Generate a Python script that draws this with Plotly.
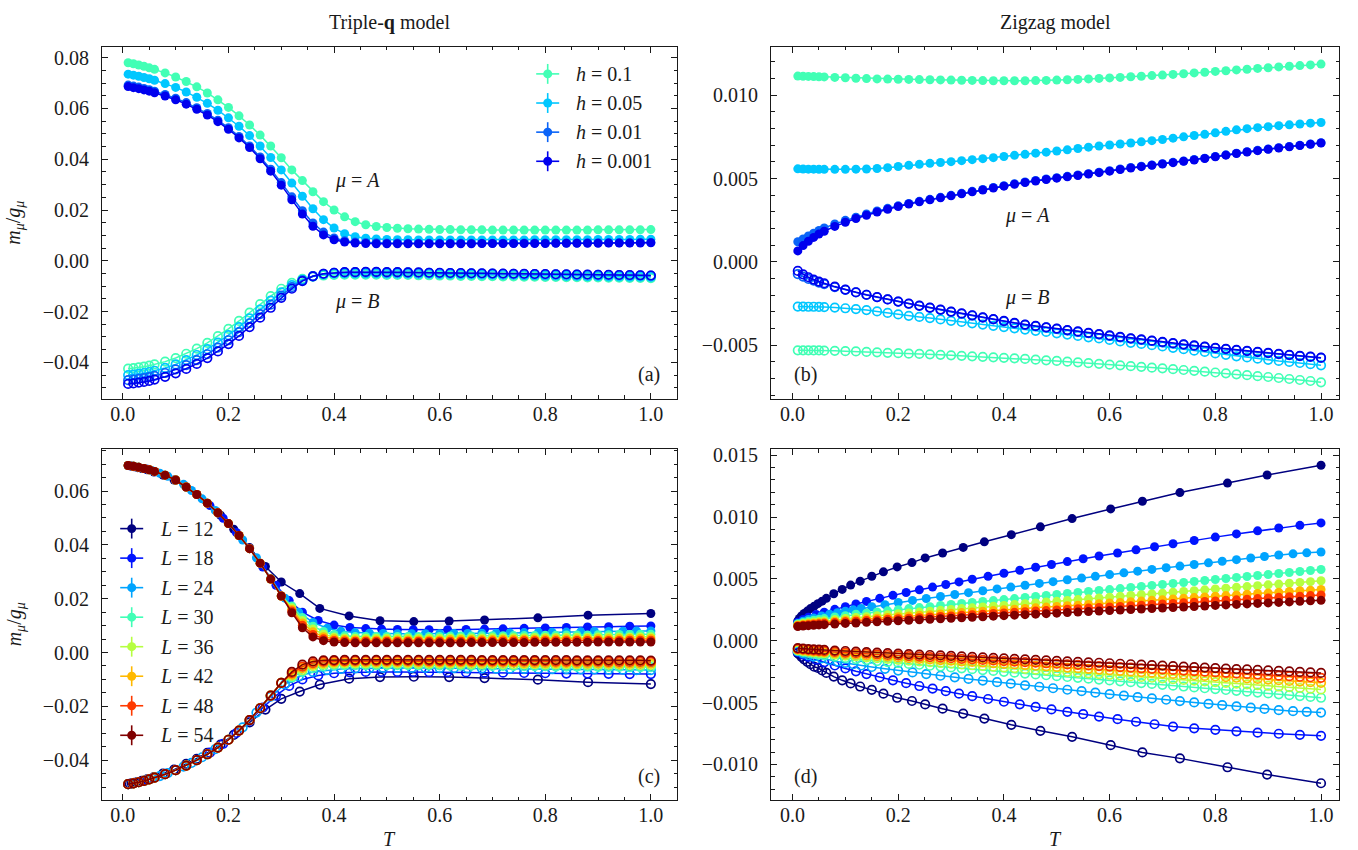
import plotly.graph_objects as go

W, H = 1358, 850
FONT = "Liberation Serif"
INK = "#1a1a1a"

# ------------------------------------------------------------------ data
T_dense = [0.01, 0.02, 0.03, 0.04, 0.05, 0.06, 0.08, 0.10, 0.12, 0.14, 0.16, 0.18, 0.20,
           0.22, 0.24, 0.26, 0.28, 0.30, 0.32, 0.34, 0.36, 0.38, 0.40, 0.42, 0.44, 0.46,
           0.48, 0.50, 0.52, 0.54, 0.56, 0.58, 0.60, 0.62, 0.64, 0.66, 0.68, 0.70, 0.72,
           0.74, 0.76, 0.78, 0.80, 0.82, 0.84, 0.86, 0.88, 0.90, 0.92, 0.94, 0.96, 0.98, 1.00]
T_L12c = [0.010, 0.013, 0.017, 0.022, 0.028, 0.036, 0.046, 0.059, 0.076, 0.097, 0.12, 0.14,
          0.16, 0.185, 0.21, 0.24, 0.27, 0.30, 0.335, 0.373, 0.4285, 0.487, 0.551, 0.618,
          0.685, 0.786, 0.881, 1.0]
T_L12d = [0.010, 0.013, 0.017, 0.022, 0.028, 0.034, 0.041, 0.048, 0.056, 0.064, 0.078, 0.094,
          0.110, 0.128, 0.150, 0.172, 0.198, 0.226, 0.251, 0.284, 0.323, 0.363, 0.414, 0.469,
          0.529, 0.602, 0.662, 0.733, 0.823, 0.898, 1.0]
T_L18 = [0.01, 0.02, 0.03, 0.045, 0.06, 0.08, 0.10, 0.12, 0.14, 0.165, 0.19, 0.215, 0.24, 0.265,
         0.29, 0.315, 0.34, 0.37, 0.40, 0.43, 0.46, 0.49, 0.52, 0.55, 0.58, 0.615, 0.65, 0.685,
         0.72, 0.76, 0.80, 0.84, 0.88, 0.92, 0.96, 1.0]
T_L24 = [0.01, 0.02, 0.03, 0.04, 0.055, 0.07, 0.085, 0.10, 0.115, 0.13, 0.15, 0.175, 0.2, 0.227,
         0.253, 0.28, 0.307, 0.333, 0.36, 0.387, 0.413, 0.44, 0.467, 0.493, 0.52, 0.547, 0.573,
         0.6, 0.627, 0.653, 0.68, 0.707, 0.733, 0.76, 0.787, 0.813, 0.84, 0.867, 0.893, 0.92,
         0.947, 0.973, 1.0]

h_labels = ["0.1", "0.05", "0.01", "0.001"]
L_labels = ["12", "18", "24", "30", "36", "42", "48", "54"]

# ---- panel (a): Triple-q, field dependence
a_A_h01 = [0.0780, 0.0776, 0.0771, 0.0766, 0.0760, 0.0754, 0.0740, 0.0724, 0.0706, 0.0685, 0.0661,
           0.0634, 0.0604, 0.0571, 0.0535, 0.0495, 0.0452, 0.0406, 0.0358, 0.0316, 0.0272, 0.0233,
           0.0200, 0.0173, 0.0154, 0.0142, 0.0135, 0.0131,
           0.0128, 0.0126, 0.0125, 0.0124, 0.0123, 0.0123, 0.0122, 0.0122, 0.0122, 0.0121, 0.0121,
           0.0121, 0.0121, 0.0121, 0.0121, 0.0121, 0.0121, 0.0121, 0.0121, 0.0122, 0.0122, 0.0122,
           0.0122, 0.0122, 0.0123]
a_A_h005 = [0.0735, 0.0731, 0.0727, 0.0722, 0.0717, 0.0711, 0.0698, 0.0683, 0.0665, 0.0644, 0.0620,
            0.0593, 0.0563, 0.0530, 0.0493, 0.0452, 0.0407, 0.0358, 0.0306, 0.0254, 0.0205, 0.0162,
            0.0129, 0.0107, 0.0095, 0.0089, 0.0086, 0.0084,
            0.0083, 0.0083, 0.0082, 0.0082, 0.0082, 0.0082, 0.0082, 0.0082, 0.0082, 0.0082, 0.0082,
            0.0082, 0.0082, 0.0083, 0.0083, 0.0083, 0.0083, 0.0083, 0.0083, 0.0084, 0.0084, 0.0084,
            0.0084, 0.0085, 0.0085]
a_A_h001 = [0.0692, 0.0688, 0.0684, 0.0679, 0.0674, 0.0668, 0.0655, 0.0640, 0.0623, 0.0603, 0.0580,
            0.0554, 0.0524, 0.0490, 0.0452, 0.0409, 0.0361, 0.0308, 0.0252, 0.0197, 0.0149, 0.0113,
            0.0090, 0.0079, 0.0074, 0.0072, 0.0071, 0.0070,
            0.0070, 0.0069, 0.0069, 0.0069, 0.0069, 0.0069, 0.0069, 0.0069, 0.0069, 0.0069, 0.0069,
            0.0069, 0.0070, 0.0070, 0.0070, 0.0070, 0.0070, 0.0070, 0.0071, 0.0071, 0.0071, 0.0071,
            0.0071, 0.0072, 0.0072]
a_A_h0001 = [0.0686, 0.0682, 0.0678, 0.0673, 0.0668, 0.0662, 0.0649, 0.0634, 0.0617, 0.0597, 0.0574,
             0.0548, 0.0518, 0.0484, 0.0446, 0.0402, 0.0353, 0.0298, 0.0240, 0.0184, 0.0136, 0.0102,
             0.0083, 0.0074, 0.0070, 0.0068, 0.0067, 0.0067,
             0.0067, 0.0067, 0.0067, 0.0067, 0.0067, 0.0067, 0.0067, 0.0067, 0.0068, 0.0068, 0.0068,
             0.0068, 0.0068, 0.0068, 0.0068, 0.0069, 0.0069, 0.0069, 0.0069, 0.0069, 0.0070, 0.0070,
             0.0070, 0.0070, 0.0071]
a_B_h01 = [-0.0425, -0.0423, -0.0420, -0.0417, -0.0413, -0.0408, -0.0397, -0.0383, -0.0366, -0.0346,
           -0.0323, -0.0297, -0.0268, -0.0237, -0.0204, -0.0171, -0.0139, -0.0110, -0.0087, -0.0071,
           -0.0062, -0.0058, -0.0056, -0.0055, -0.0055, -0.0055, -0.0055, -0.0056,
           -0.0056, -0.0056, -0.0057, -0.0057, -0.0058, -0.0058, -0.0059, -0.0059, -0.0060, -0.0060,
           -0.0061, -0.0061, -0.0062, -0.0062, -0.0063, -0.0063, -0.0064, -0.0064, -0.0065, -0.0065,
           -0.0066, -0.0066, -0.0067, -0.0067, -0.0068]
a_B_h005 = [-0.0450, -0.0448, -0.0445, -0.0442, -0.0438, -0.0433, -0.0422, -0.0408, -0.0391, -0.0371,
            -0.0348, -0.0322, -0.0293, -0.0261, -0.0227, -0.0192, -0.0157, -0.0124, -0.0096, -0.0075,
            -0.0061, -0.0054, -0.0051, -0.0050, -0.0050, -0.0050, -0.0050, -0.0051,
            -0.0051, -0.0051, -0.0052, -0.0052, -0.0053, -0.0053, -0.0054, -0.0054, -0.0055, -0.0055,
            -0.0056, -0.0056, -0.0057, -0.0057, -0.0058, -0.0058, -0.0059, -0.0059, -0.0060, -0.0060,
            -0.0061, -0.0061, -0.0062, -0.0062, -0.0063]
a_B_h001 = [-0.0470, -0.0468, -0.0465, -0.0462, -0.0458, -0.0453, -0.0442, -0.0428, -0.0411, -0.0391,
            -0.0368, -0.0342, -0.0313, -0.0281, -0.0246, -0.0210, -0.0173, -0.0137, -0.0104, -0.0077,
            -0.0060, -0.0051, -0.0047, -0.0046, -0.0045, -0.0045, -0.0045, -0.0046,
            -0.0046, -0.0046, -0.0047, -0.0047, -0.0048, -0.0048, -0.0049, -0.0049, -0.0050, -0.0050,
            -0.0051, -0.0051, -0.0052, -0.0052, -0.0053, -0.0053, -0.0054, -0.0054, -0.0055, -0.0055,
            -0.0056, -0.0056, -0.0057, -0.0057, -0.0058]
a_B_h0001 = [-0.0485, -0.0483, -0.0480, -0.0477, -0.0473, -0.0468, -0.0457, -0.0443, -0.0426, -0.0406,
             -0.0383, -0.0357, -0.0328, -0.0296, -0.0261, -0.0224, -0.0185, -0.0146, -0.0110, -0.0080,
             -0.0061, -0.0051, -0.0047, -0.0045, -0.0045, -0.0044, -0.0044, -0.0045,
             -0.0045, -0.0046, -0.0046, -0.0047, -0.0047, -0.0048, -0.0048, -0.0049, -0.0049, -0.0050,
             -0.0050, -0.0051, -0.0051, -0.0052, -0.0052, -0.0053, -0.0053, -0.0054, -0.0054, -0.0055,
             -0.0055, -0.0056, -0.0056, -0.0057, -0.0058]

# ---- panel (b): Zigzag, field dependence
b_A_h01 = [0.01114, 0.01113, 0.01112, 0.01111, 0.01110, 0.01109, 0.01106, 0.01104, 0.01101, 0.01099,
           0.01097, 0.01096, 0.01095, 0.01094, 0.01093, 0.01092, 0.01091, 0.01090, 0.01089, 0.01088,
           0.01087, 0.01086, 0.01086, 0.01086, 0.01086, 0.01087, 0.01088, 0.01090, 0.01092, 0.01094,
           0.01097, 0.01100, 0.01103, 0.01106, 0.01110, 0.01113, 0.01117, 0.01120, 0.01124, 0.01128,
           0.01133, 0.01137, 0.01142, 0.01146, 0.01151, 0.01155, 0.01160, 0.01164, 0.01169, 0.01173,
           0.01177, 0.01181, 0.01186]
b_A_h005 = [0.00558, 0.00557, 0.00556, 0.00556, 0.00555, 0.00555, 0.00555, 0.00555, 0.00556, 0.00557,
            0.00560, 0.00565, 0.00572, 0.00579, 0.00585, 0.00591, 0.00596, 0.00601, 0.00607, 0.00613,
            0.00619, 0.00625, 0.00632, 0.00639, 0.00645, 0.00652, 0.00658, 0.00665, 0.00672, 0.00680,
            0.00688, 0.00695, 0.00701, 0.00707, 0.00713, 0.00720, 0.00727, 0.00734, 0.00742, 0.00750,
            0.00758, 0.00765, 0.00774, 0.00783, 0.00792, 0.00799, 0.00805, 0.00811, 0.00817, 0.00822,
            0.00827, 0.00832, 0.00836]
b_A_h001 = [0.00121, 0.00138, 0.00155, 0.00172, 0.00188, 0.00203, 0.00228, 0.00249, 0.00268, 0.00287,
            0.00305, 0.00321, 0.00336, 0.00350, 0.00363, 0.00375, 0.00387, 0.00399, 0.00411, 0.00423,
            0.00434, 0.00446, 0.00457, 0.00469, 0.00479, 0.00488, 0.00497, 0.00505, 0.00513, 0.00521,
            0.00529, 0.00538, 0.00547, 0.00557, 0.00566, 0.00574, 0.00581, 0.00589, 0.00597, 0.00605,
            0.00614, 0.00622, 0.00632, 0.00642, 0.00652, 0.00661, 0.00669, 0.00677, 0.00685, 0.00692,
            0.00699, 0.00707, 0.00715]
b_A_h0001 = [0.00066, 0.00098, 0.00124, 0.00147, 0.00167, 0.00184, 0.00213, 0.00238, 0.00260, 0.00280,
             0.00299, 0.00316, 0.00332, 0.00347, 0.00360, 0.00372, 0.00384, 0.00396, 0.00408, 0.00420,
             0.00431, 0.00443, 0.00454, 0.00465, 0.00476, 0.00485, 0.00494, 0.00502, 0.00510, 0.00518,
             0.00527, 0.00535, 0.00544, 0.00554, 0.00563, 0.00571, 0.00579, 0.00587, 0.00595, 0.00603,
             0.00611, 0.00620, 0.00630, 0.00640, 0.00650, 0.00659, 0.00667, 0.00675, 0.00683, 0.00690,
             0.00698, 0.00705, 0.00713]
b_B_h01 = [-0.00530, -0.00530, -0.00530, -0.00531, -0.00531, -0.00532, -0.00533, -0.00535, -0.00537,
           -0.00540, -0.00542, -0.00545, -0.00547, -0.00550, -0.00552, -0.00554, -0.00557, -0.00560,
           -0.00563, -0.00566, -0.00569, -0.00572, -0.00575, -0.00578, -0.00582, -0.00586, -0.00590,
           -0.00594, -0.00598, -0.00602, -0.00607, -0.00611, -0.00616, -0.00620, -0.00625, -0.00629,
           -0.00634, -0.00638, -0.00643, -0.00648, -0.00653, -0.00658, -0.00663, -0.00668, -0.00674,
           -0.00679, -0.00685, -0.00690, -0.00696, -0.00702, -0.00708, -0.00714, -0.00722]
b_B_h005 = [-0.00268, -0.00268, -0.00269, -0.00269, -0.00270, -0.00271, -0.00274, -0.00278, -0.00283,
            -0.00289, -0.00297, -0.00306, -0.00315, -0.00323, -0.00330, -0.00337, -0.00345, -0.00353,
            -0.00360, -0.00368, -0.00376, -0.00383, -0.00391, -0.00398, -0.00406, -0.00413, -0.00420,
            -0.00428, -0.00436, -0.00444, -0.00452, -0.00459, -0.00468, -0.00477, -0.00485, -0.00492,
            -0.00499, -0.00507, -0.00515, -0.00523, -0.00532, -0.00540, -0.00549, -0.00557, -0.00566,
            -0.00573, -0.00580, -0.00587, -0.00594, -0.00600, -0.00606, -0.00613, -0.00620]
b_B_h001 = [-0.00073, -0.00088, -0.00102, -0.00113, -0.00124, -0.00133, -0.00151, -0.00168, -0.00183,
            -0.00198, -0.00212, -0.00225, -0.00238, -0.00251, -0.00264, -0.00276, -0.00288, -0.00300,
            -0.00311, -0.00322, -0.00334, -0.00345, -0.00356, -0.00368, -0.00378, -0.00385, -0.00393,
            -0.00401, -0.00410, -0.00419, -0.00427, -0.00435, -0.00443, -0.00452, -0.00460, -0.00467,
            -0.00474, -0.00482, -0.00489, -0.00496, -0.00503, -0.00510, -0.00517, -0.00523, -0.00529,
            -0.00535, -0.00541, -0.00547, -0.00553, -0.00559, -0.00565, -0.00570, -0.00576]
b_B_h0001 = [-0.00054, -0.00075, -0.00092, -0.00106, -0.00118, -0.00128, -0.00148, -0.00166, -0.00182,
             -0.00197, -0.00211, -0.00225, -0.00238, -0.00250, -0.00262, -0.00274, -0.00286, -0.00298,
             -0.00309, -0.00320, -0.00332, -0.00343, -0.00354, -0.00365, -0.00376, -0.00384, -0.00392,
             -0.00400, -0.00409, -0.00417, -0.00425, -0.00433, -0.00441, -0.00450, -0.00458, -0.00465,
             -0.00472, -0.00480, -0.00487, -0.00494, -0.00501, -0.00508, -0.00515, -0.00521, -0.00527,
             -0.00533, -0.00539, -0.00545, -0.00551, -0.00557, -0.00563, -0.00568, -0.00574]

# ---- panel (c): Triple-q, size dependence
# below T = 0.30 the large-L curves coincide (values read once for T_dense[:18])
c_A_low = [0.0695, 0.0692, 0.0688, 0.0684, 0.0679, 0.0673, 0.0659, 0.0641, 0.0615, 0.0587, 0.0555,
           0.0519, 0.0479, 0.0435, 0.0386, 0.0332, 0.0273, 0.0210]
c_B_low = [-0.0489, -0.0486, -0.0482, -0.0477, -0.0471, -0.0465, -0.0452, -0.0437, -0.0420, -0.0400,
           -0.0378, -0.0353, -0.0324, -0.0290, -0.0251, -0.0207, -0.0160, -0.0113]
c_A_L12 = [0.0695, 0.0694, 0.0692, 0.0690, 0.0687, 0.0684, 0.0679, 0.0671, 0.0659, 0.0641, 0.0615,
           0.0587, 0.0555, 0.0510, 0.0458, 0.0390, 0.0320, 0.0262, 0.0219, 0.0164, 0.0136, 0.0118,
           0.0115, 0.0117, 0.0121, 0.0129, 0.0139, 0.0145]
c_B_L12 = [-0.0489, -0.0488, -0.0486, -0.0484, -0.0481, -0.0477, -0.0471, -0.0463, -0.0450, -0.0435,
           -0.0414, -0.0395, -0.0373, -0.0342, -0.0306, -0.0260, -0.0212, -0.0172, -0.0145, -0.0119,
           -0.0097, -0.0091, -0.0090, -0.0091, -0.0095, -0.0101, -0.0110, -0.0117]
c_A_L18 = [0.0695, 0.0692, 0.0688, 0.0682, 0.0673, 0.0659, 0.0641, 0.0615, 0.0587, 0.0546, 0.0499,
           0.0446, 0.0386, 0.0318, 0.0250, 0.0193, 0.0150, 0.0119, 0.0102, 0.0093, 0.0089, 0.0087,
           0.0086, 0.0085, 0.0085, 0.0085, 0.0086, 0.0087, 0.0088, 0.0090, 0.0091, 0.0093, 0.0095,
           0.0096, 0.0098, 0.0099]
c_B_L18 = [-0.0489, -0.0486, -0.0482, -0.0474, -0.0465, -0.0452, -0.0437, -0.0420, -0.0400, -0.0372,
           -0.0339, -0.0299, -0.0254, -0.0205, -0.0160, -0.0124, -0.0100, -0.0085, -0.0077, -0.0074,
           -0.0072, -0.0072, -0.0072, -0.0072, -0.0073, -0.0073, -0.0074, -0.0075, -0.0075, -0.0076,
           -0.0077, -0.0078, -0.0078, -0.0079, -0.0080, -0.0080]
c_A_L24 = [0.0695, 0.0692, 0.0688, 0.0684, 0.0676, 0.0666, 0.0655, 0.0641, 0.0625, 0.0602, 0.0571,
           0.0528, 0.0479, 0.0418, 0.0352, 0.0275, 0.0202, 0.0150, 0.0112, 0.0090, 0.0079, 0.0074,
           0.0072, 0.0071, 0.0070, 0.0070, 0.0070, 0.0070, 0.0071, 0.0071, 0.0072, 0.0072, 0.0073,
           0.0074, 0.0075, 0.0075, 0.0076, 0.0077, 0.0078, 0.0078, 0.0079, 0.0080, 0.0080]
c_B_L24 = [-0.0489, -0.0486, -0.0482, -0.0477, -0.0468, -0.0459, -0.0448, -0.0437, -0.0424, -0.0410,
           -0.0389, -0.0359, -0.0324, -0.0278, -0.0223, -0.0164, -0.0118, -0.0089, -0.0072, -0.0065,
           -0.0061, -0.0059, -0.0058, -0.0057, -0.0057, -0.0057, -0.0057, -0.0058, -0.0058, -0.0059,
           -0.0059, -0.0060, -0.0060, -0.0061, -0.0061, -0.0062, -0.0062, -0.0063, -0.0063, -0.0064,
           -0.0064, -0.0065, -0.0065]
# values for T_dense[18:]  (T = 0.32 ... 1.00)
c_A_L30_hi = [0.0173, 0.0130, 0.0098, 0.0078, 0.0067, 0.0062, 0.0060, 0.0060, 0.0060, 0.0060,
              0.0060, 0.0060, 0.0060, 0.0060, 0.0060, 0.0061, 0.0061, 0.0061, 0.0062, 0.0062, 0.0062,
              0.0063, 0.0063, 0.0063, 0.0064, 0.0064, 0.0065, 0.0065, 0.0065, 0.0066, 0.0066, 0.0067,
              0.0067, 0.0068, 0.0068]
c_A_L36_hi = [0.0166, 0.0119, 0.0087, 0.0068, 0.0058, 0.0054, 0.0053, 0.0053, 0.0053, 0.0053,
              0.0053, 0.0053, 0.0053, 0.0053, 0.0053, 0.0054, 0.0054, 0.0054, 0.0054, 0.0055, 0.0055,
              0.0055, 0.0055, 0.0056, 0.0056, 0.0056, 0.0057, 0.0057, 0.0057, 0.0058, 0.0058, 0.0058,
              0.0058, 0.0059, 0.0059]
c_A_L42_hi = [0.0160, 0.0110, 0.0077, 0.0059, 0.0051, 0.0048, 0.0047, 0.0047, 0.0047, 0.0047,
              0.0047, 0.0047, 0.0047, 0.0047, 0.0047, 0.0048, 0.0048, 0.0048, 0.0048, 0.0048, 0.0049,
              0.0049, 0.0049, 0.0049, 0.0050, 0.0050, 0.0050, 0.0050, 0.0051, 0.0051, 0.0051, 0.0051,
              0.0052, 0.0052, 0.0052]
c_A_L48_hi = [0.0154, 0.0101, 0.0067, 0.0051, 0.0045, 0.0043, 0.0042, 0.0042, 0.0042, 0.0042,
              0.0042, 0.0042, 0.0042, 0.0042, 0.0042, 0.0042, 0.0042, 0.0043, 0.0043, 0.0043, 0.0043,
              0.0043, 0.0044, 0.0044, 0.0044, 0.0044, 0.0044, 0.0045, 0.0045, 0.0045, 0.0045, 0.0045,
              0.0046, 0.0046, 0.0046]
c_A_L54_hi = [0.0148, 0.0092, 0.0058, 0.0044, 0.0039, 0.0037, 0.0036, 0.0036, 0.0036, 0.0036,
              0.0036, 0.0036, 0.0036, 0.0036, 0.0036, 0.0036, 0.0036, 0.0037, 0.0037, 0.0037, 0.0037,
              0.0037, 0.0037, 0.0038, 0.0038, 0.0038, 0.0038, 0.0038, 0.0038, 0.0039, 0.0039, 0.0039,
              0.0039, 0.0039, 0.0039]
c_B_L30_hi = [-0.0093, -0.0072, -0.0058, -0.0051, -0.0048, -0.0047, -0.0047, -0.0047, -0.0047, -0.0047,
              -0.0047, -0.0047, -0.0048, -0.0048, -0.0048, -0.0049, -0.0049, -0.0049, -0.0050, -0.0050,
              -0.0050, -0.0050, -0.0051, -0.0051, -0.0051, -0.0052, -0.0052, -0.0052, -0.0052, -0.0053,
              -0.0053, -0.0053, -0.0054, -0.0054, -0.0054]
c_B_L36_hi = [-0.0087, -0.0065, -0.0051, -0.0045, -0.0042, -0.0041, -0.0041, -0.0041, -0.0041, -0.0041,
              -0.0041, -0.0041, -0.0042, -0.0042, -0.0042, -0.0042, -0.0043, -0.0043, -0.0043, -0.0043,
              -0.0044, -0.0044, -0.0044, -0.0044, -0.0045, -0.0045, -0.0045, -0.0045, -0.0046, -0.0046,
              -0.0046, -0.0046, -0.0047, -0.0047, -0.0047]
c_B_L42_hi = [-0.0082, -0.0058, -0.0045, -0.0039, -0.0037, -0.0036, -0.0036, -0.0036, -0.0036, -0.0036,
              -0.0036, -0.0036, -0.0036, -0.0037, -0.0037, -0.0037, -0.0037, -0.0037, -0.0038, -0.0038,
              -0.0038, -0.0038, -0.0039, -0.0039, -0.0039, -0.0039, -0.0039, -0.0040, -0.0040, -0.0040,
              -0.0040, -0.0041, -0.0041, -0.0041, -0.0041]
c_B_L48_hi = [-0.0077, -0.0052, -0.0039, -0.0034, -0.0032, -0.0032, -0.0031, -0.0031, -0.0031, -0.0031,
              -0.0031, -0.0031, -0.0031, -0.0032, -0.0032, -0.0032, -0.0032, -0.0032, -0.0032, -0.0033,
              -0.0033, -0.0033, -0.0033, -0.0033, -0.0033, -0.0034, -0.0034, -0.0034, -0.0034, -0.0034,
              -0.0035, -0.0035, -0.0035, -0.0035, -0.0035]
c_B_L54_hi = [-0.0072, -0.0045, -0.0033, -0.0029, -0.0028, -0.0027, -0.0027, -0.0027, -0.0027, -0.0027,
              -0.0027, -0.0027, -0.0027, -0.0027, -0.0027, -0.0027, -0.0027, -0.0027, -0.0028, -0.0028,
              -0.0028, -0.0028, -0.0028, -0.0028, -0.0028, -0.0028, -0.0028, -0.0029, -0.0029, -0.0029,
              -0.0029, -0.0029, -0.0029, -0.0029, -0.0030]

# ---- panel (d): Zigzag, size dependence
d_A_L12 = [0.0016, 0.0018, 0.0020, 0.0022, 0.0024, 0.0026, 0.0028, 0.0030, 0.0032, 0.00343, 0.0038,
           0.00415, 0.0045, 0.00482, 0.00522, 0.00557, 0.00597, 0.00632, 0.0067, 0.0071, 0.00755,
           0.00800, 0.00858, 0.00921, 0.00988, 0.01066, 0.01128, 0.01198, 0.01275, 0.01340, 0.01419]
d_B_L12 = [-0.0010, -0.0011, -0.0013, -0.0015, -0.0017, -0.0019, -0.0021, -0.0022, -0.0024, -0.0026,
           -0.0029, -0.0032, -0.00345, -0.0037, -0.00397, -0.00428, -0.00461, -0.00487, -0.00515,
           -0.00549, -0.00589, -0.00629, -0.0068, -0.00728, -0.00777, -0.00844, -0.00903, -0.00951,
           -0.01023, -0.01082, -0.01152]
d_A_L18 = [0.00150, 0.00172, 0.00190, 0.00212, 0.00231, 0.00254, 0.00276, 0.00297, 0.00318, 0.00343,
           0.00367, 0.00390, 0.00412, 0.00434, 0.00455, 0.00476, 0.00497, 0.00521, 0.00546, 0.00570,
           0.00594, 0.00617, 0.00640, 0.00663, 0.00685, 0.00710, 0.00735, 0.00760, 0.00784, 0.00811,
           0.00838, 0.00864, 0.00889, 0.00912, 0.00933, 0.00953]
d_B_L18 = [-0.00090, -0.00112, -0.00130, -0.00153, -0.00174, -0.00200, -0.00224, -0.00247, -0.00269,
           -0.00295, -0.00320, -0.00343, -0.00366, -0.00387, -0.00408, -0.00428, -0.00448, -0.00471,
           -0.00493, -0.00514, -0.00535, -0.00555, -0.00575, -0.00594, -0.00613, -0.00634, -0.00655,
           -0.00675, -0.00694, -0.00708, -0.00720, -0.00732, -0.00743, -0.00752, -0.00761, -0.00769]
d_A_L24 = [0.00140, 0.00158, 0.00172, 0.00184, 0.00200, 0.00214, 0.00227, 0.00239, 0.00250, 0.00261,
           0.00275, 0.00292, 0.00309, 0.00326, 0.00342, 0.00358, 0.00374, 0.00389, 0.00404, 0.00419,
           0.00434, 0.00449, 0.00464, 0.00478, 0.00493, 0.00507, 0.00521, 0.00535, 0.00549, 0.00563,
           0.00577, 0.00590, 0.00604, 0.00617, 0.00630, 0.00643, 0.00656, 0.00669, 0.00681, 0.00693,
           0.00703, 0.00711, 0.00718]
d_B_L24 = [-0.00085, -0.00102, -0.00116, -0.00128, -0.00143, -0.00156, -0.00168, -0.00179, -0.00190,
           -0.00200, -0.00212, -0.00227, -0.00241, -0.00256, -0.00269, -0.00283, -0.00296, -0.00309,
           -0.00322, -0.00335, -0.00347, -0.00360, -0.00372, -0.00384, -0.00396, -0.00408, -0.00420,
           -0.00432, -0.00443, -0.00455, -0.00466, -0.00477, -0.00488, -0.00499, -0.00510, -0.00520,
           -0.00531, -0.00541, -0.00551, -0.00561, -0.00569, -0.00575, -0.00581]
d_A_L30 = [0.00135, 0.00148, 0.00157, 0.00166, 0.00172, 0.00179, 0.00192, 0.00203, 0.00214, 0.00223,
           0.00233, 0.00242, 0.00251, 0.00260, 0.00268, 0.00276, 0.00285, 0.00293, 0.00301, 0.00309,
           0.00317, 0.00325, 0.00333, 0.00341, 0.00350, 0.00358, 0.00366, 0.00374, 0.00382, 0.00390,
           0.00398, 0.00406, 0.00414, 0.00422, 0.00431, 0.00439, 0.00447, 0.00455, 0.00463, 0.00471,
           0.00479, 0.00487, 0.00495, 0.00503, 0.00512, 0.00520, 0.00528, 0.00536, 0.00544, 0.00552,
           0.00560, 0.00568, 0.00576]
d_A_L36 = [0.00130, 0.00139, 0.00145, 0.00151, 0.00156, 0.00161, 0.00171, 0.00180, 0.00188, 0.00195,
           0.00203, 0.00210, 0.00218, 0.00225, 0.00232, 0.00239, 0.00246, 0.00253, 0.00260, 0.00266,
           0.00273, 0.00280, 0.00286, 0.00293, 0.00299, 0.00306, 0.00313, 0.00319, 0.00326, 0.00333,
           0.00339, 0.00346, 0.00352, 0.00359, 0.00366, 0.00372, 0.00379, 0.00385, 0.00392, 0.00399,
           0.00405, 0.00412, 0.00419, 0.00425, 0.00432, 0.00438, 0.00445, 0.00452, 0.00458, 0.00465,
           0.00472, 0.00478, 0.00485]
d_A_L42 = [0.00125, 0.00132, 0.00137, 0.00142, 0.00146, 0.00150, 0.00157, 0.00164, 0.00170, 0.00177,
           0.00182, 0.00188, 0.00194, 0.00200, 0.00206, 0.00211, 0.00217, 0.00222, 0.00228, 0.00233,
           0.00239, 0.00244, 0.00250, 0.00255, 0.00261, 0.00266, 0.00272, 0.00277, 0.00283, 0.00288,
           0.00294, 0.00299, 0.00305, 0.00310, 0.00316, 0.00321, 0.00327, 0.00332, 0.00338, 0.00343,
           0.00349, 0.00354, 0.00360, 0.00365, 0.00371, 0.00376, 0.00382, 0.00387, 0.00393, 0.00398,
           0.00404, 0.00409, 0.00415]
d_A_L48 = [0.00120, 0.00126, 0.00130, 0.00134, 0.00137, 0.00141, 0.00147, 0.00153, 0.00158, 0.00163,
           0.00168, 0.00173, 0.00178, 0.00183, 0.00187, 0.00192, 0.00196, 0.00201, 0.00206, 0.00211,
           0.00215, 0.00220, 0.00225, 0.00230, 0.00235, 0.00240, 0.00244, 0.00249, 0.00254, 0.00259,
           0.00264, 0.00269, 0.00273, 0.00278, 0.00283, 0.00288, 0.00293, 0.00298, 0.00302, 0.00307,
           0.00312, 0.00317, 0.00322, 0.00327, 0.00331, 0.00336, 0.00341, 0.00346, 0.00351, 0.00356,
           0.00360, 0.00365, 0.00370]
d_A_L54 = [0.00115, 0.00119, 0.00122, 0.00125, 0.00128, 0.00130, 0.00135, 0.00140, 0.00144, 0.00149,
           0.00153, 0.00157, 0.00162, 0.00166, 0.00170, 0.00174, 0.00178, 0.00182, 0.00186, 0.00190,
           0.00194, 0.00199, 0.00203, 0.00207, 0.00211, 0.00215, 0.00219, 0.00223, 0.00228, 0.00232,
           0.00236, 0.00240, 0.00244, 0.00248, 0.00252, 0.00257, 0.00261, 0.00265, 0.00269, 0.00273,
           0.00277, 0.00281, 0.00286, 0.00290, 0.00294, 0.00298, 0.00302, 0.00306, 0.00310, 0.00314,
           0.00319, 0.00323, 0.00327]
d_B_L30 = [-0.00080, -0.00091, -0.00099, -0.00107, -0.00112, -0.00118, -0.00129, -0.00139, -0.00148,
           -0.00156, -0.00164, -0.00172, -0.00180, -0.00187, -0.00194, -0.00202, -0.00209, -0.00216,
           -0.00223, -0.00230, -0.00237, -0.00244, -0.00251, -0.00258, -0.00265, -0.00272, -0.00279,
           -0.00286, -0.00293, -0.00300, -0.00307, -0.00314, -0.00321, -0.00328, -0.00335, -0.00342,
           -0.00349, -0.00356, -0.00363, -0.00370, -0.00377, -0.00384, -0.00391, -0.00398, -0.00405,
           -0.00412, -0.00419, -0.00426, -0.00433, -0.00440, -0.00447, -0.00454, -0.00461]
d_B_L36 = [-0.00075, -0.00083, -0.00089, -0.00094, -0.00099, -0.00103, -0.00112, -0.00120, -0.00127,
           -0.00134, -0.00141, -0.00147, -0.00154, -0.00161, -0.00167, -0.00173, -0.00180, -0.00186,
           -0.00192, -0.00198, -0.00204, -0.00210, -0.00216, -0.00222, -0.00228, -0.00234, -0.00239,
           -0.00245, -0.00251, -0.00257, -0.00263, -0.00269, -0.00275, -0.00281, -0.00287, -0.00293,
           -0.00299, -0.00305, -0.00311, -0.00317, -0.00323, -0.00329, -0.00335, -0.00340, -0.00346,
           -0.00352, -0.00358, -0.00364, -0.00370, -0.00376, -0.00382, -0.00388, -0.00394]
d_B_L42 = [-0.00070, -0.00076, -0.00081, -0.00086, -0.00089, -0.00093, -0.00100, -0.00107, -0.00113,
           -0.00118, -0.00124, -0.00129, -0.00135, -0.00140, -0.00146, -0.00151, -0.00156, -0.00161,
           -0.00166, -0.00171, -0.00176, -0.00181, -0.00187, -0.00192, -0.00197, -0.00202, -0.00207,
           -0.00212, -0.00217, -0.00222, -0.00227, -0.00233, -0.00238, -0.00243, -0.00248, -0.00253,
           -0.00258, -0.00263, -0.00268, -0.00273, -0.00279, -0.00284, -0.00289, -0.00294, -0.00299,
           -0.00304, -0.00309, -0.00314, -0.00319, -0.00325, -0.00330, -0.00335, -0.00340]
d_B_L48 = [-0.00065, -0.00070, -0.00074, -0.00078, -0.00081, -0.00084, -0.00090, -0.00096, -0.00101,
           -0.00105, -0.00110, -0.00115, -0.00119, -0.00124, -0.00128, -0.00132, -0.00137, -0.00141,
           -0.00146, -0.00150, -0.00155, -0.00159, -0.00164, -0.00168, -0.00173, -0.00177, -0.00182,
           -0.00186, -0.00191, -0.00195, -0.00200, -0.00205, -0.00209, -0.00214, -0.00218, -0.00223,
           -0.00227, -0.00232, -0.00236, -0.00241, -0.00245, -0.00250, -0.00254, -0.00259, -0.00264,
           -0.00268, -0.00273, -0.00277, -0.00282, -0.00286, -0.00291, -0.00295, -0.00300]
d_B_L54 = [-0.00060, -0.00064, -0.00067, -0.00069, -0.00072, -0.00074, -0.00079, -0.00083, -0.00088,
           -0.00092, -0.00096, -0.00100, -0.00104, -0.00108, -0.00112, -0.00115, -0.00119, -0.00123,
           -0.00127, -0.00131, -0.00135, -0.00139, -0.00143, -0.00146, -0.00150, -0.00154, -0.00158,
           -0.00162, -0.00166, -0.00170, -0.00174, -0.00178, -0.00182, -0.00186, -0.00190, -0.00193,
           -0.00197, -0.00201, -0.00205, -0.00209, -0.00213, -0.00217, -0.00221, -0.00225, -0.00229,
           -0.00232, -0.00236, -0.00240, -0.00244, -0.00248, -0.00252, -0.00256, -0.00260]

# ------------------------------------------------------------------ styles
h_colors = ["#42ffb5", "#00c7ff", "#0a64f8", "#0000ee"]
L_colors = ["#000080", "#0014ff", "#00a4ff", "#41ffb6", "#b6ff41", "#ffb900", "#ff3a00", "#800000"]

panel_a = [(T_dense, a_A_h01, a_B_h01), (T_dense, a_A_h005, a_B_h005),
           (T_dense, a_A_h001, a_B_h001), (T_dense, a_A_h0001, a_B_h0001)]
panel_b = [(T_dense, b_A_h01, b_B_h01), (T_dense, b_A_h005, b_B_h005),
           (T_dense, b_A_h001, b_B_h001), (T_dense, b_A_h0001, b_B_h0001)]
panel_c = [(T_L12c, c_A_L12, c_B_L12), (T_L18, c_A_L18, c_B_L18), (T_L24, c_A_L24, c_B_L24),
           (T_dense, c_A_low + c_A_L30_hi, c_B_low + c_B_L30_hi),
           (T_dense, c_A_low + c_A_L36_hi, c_B_low + c_B_L36_hi),
           (T_dense, c_A_low + c_A_L42_hi, c_B_low + c_B_L42_hi),
           (T_dense, c_A_low + c_A_L48_hi, c_B_low + c_B_L48_hi),
           (T_dense, c_A_low + c_A_L54_hi, c_B_low + c_B_L54_hi)]
panel_d = [(T_L12d, d_A_L12, d_B_L12), (T_L18, d_A_L18, d_B_L18), (T_L24, d_A_L24, d_B_L24),
           (T_dense, d_A_L30, d_B_L30), (T_dense, d_A_L36, d_B_L36), (T_dense, d_A_L42, d_B_L42),
           (T_dense, d_A_L48, d_B_L48), (T_dense, d_A_L54, d_B_L54)]

for panel in (panel_a, panel_b, panel_c, panel_d):
    for t, ya, yb in panel:
        assert len(t) == len(ya) == len(yb), (len(t), len(ya), len(yb))

fig = go.Figure()


def add_panel(series, colors, xa, ya):
    for (t, vA, vB), col in zip(series, colors):
        fig.add_trace(go.Scatter(
            x=t, y=vA, xaxis=xa, yaxis=ya, mode="lines+markers", showlegend=False,
            hoverinfo="skip", line=dict(color=col, width=1.5),
            marker=dict(color=col, size=9, line=dict(width=0))))
        fig.add_trace(go.Scatter(
            x=t, y=vB, xaxis=xa, yaxis=ya, mode="lines+markers", showlegend=False,
            hoverinfo="skip", line=dict(color=col, width=1.5),
            marker=dict(symbol="circle-open", color=col, size=8.5, line=dict(width=1.7, color=col))))


add_panel(panel_a, h_colors, "x", "y")
add_panel(panel_b, h_colors, "x2", "y2")
add_panel(panel_c, L_colors, "x3", "y3")
add_panel(panel_d, L_colors, "x4", "y4")


def px_x(p):
    return p / W


def px_y(p):
    return 1 - p / H


dom_xl = [px_x(102), px_x(677)]
dom_xr = [px_x(771), px_x(1339)]
dom_yt = [px_y(396), px_y(42)]
dom_yb = [px_y(800), px_y(446.7)]


def axis(domain, rng, dtick, mdtick, fmt, anchor, standoff):
    return dict(domain=domain, range=rng, anchor=anchor, tick0=0, dtick=dtick, tickformat=fmt,
                showline=True, linecolor=INK, linewidth=1, mirror="allticks",
                ticks="inside", ticklen=6, tickwidth=1, tickcolor=INK,
                minor=dict(ticks="inside", ticklen=3.5, tickwidth=1, tickcolor=INK,
                           tick0=0, dtick=mdtick, showgrid=False),
                showgrid=False, zeroline=False, ticklabelstandoff=standoff,
                tickfont=dict(family=FONT, size=20, color=INK))


fig.update_layout(
    width=W, height=H, margin=dict(l=0, r=0, t=0, b=0),
    paper_bgcolor="white", plot_bgcolor="white",
    font=dict(family=FONT, size=20, color=INK),
    xaxis=axis(dom_xl, [-0.0395, 1.0495], 0.2, 0.05, ".1f", "y", -3),
    yaxis=axis(dom_yt, [-0.0543, 0.0843], 0.02, 0.005, ".2f", "x", 8),
    xaxis2=axis(dom_xr, [-0.0407, 1.034], 0.2, 0.05, ".1f", "y2", -3),
    yaxis2=axis(dom_yt, [-0.0082, 0.0129], 0.005, 0.001, ".3f", "x2", 8),
    xaxis3=axis(dom_xl, [-0.0395, 1.0495], 0.2, 0.05, ".1f", "y3", -3),
    yaxis3=axis(dom_yb, [-0.0549, 0.0756], 0.02, 0.005, ".2f", "x3", 8),
    xaxis4=axis(dom_xr, [-0.0407, 1.034], 0.2, 0.05, ".1f", "y4", -3),
    yaxis4=axis(dom_yb, [-0.0129, 0.0155], 0.005, 0.001, ".3f", "x4", 8),
)

ann = []
shapes = []


def text(x, y, s, xanchor="center", size=20, angle=0):
    ann.append(dict(x=px_x(x), y=px_y(y), xref="paper", yref="paper", text=s, showarrow=False,
                    xanchor=xanchor, yanchor="middle", textangle=angle,
                    font=dict(family=FONT, size=size, color=INK)))


# titles
text(389.5, 18, "Triple-<b>q</b> model", size=20)
text(1055, 18, "Zigzag model", size=20)
# axis titles
ylab = "<i>m</i><sub><i>μ</i></sub>/<i>g</i><sub><i>μ</i></sub>"
text(15, 219, ylab, angle=-90)
text(15, 623, ylab, angle=-90)
text(389.5, 839, "<i>T</i>")
text(1055, 839, "<i>T</i>")
# in-panel labels
text(333, 177, "<i>μ</i> = <i>A</i>", xanchor="left")
text(333, 298, "<i>μ</i> = <i>B</i>", xanchor="left")
text(1003, 212, "<i>μ</i> = <i>A</i>", xanchor="left")
text(1003, 294, "<i>μ</i> = <i>B</i>", xanchor="left")
text(662, 372, "(a)", xanchor="right")
text(792, 372, "(b)", xanchor="left")
text(662, 776, "(c)", xanchor="right")
text(792, 776, "(d)", xanchor="left")


def legend_key(cx, cy, col):
    shapes.append(dict(type="line", xref="paper", yref="paper", x0=px_x(cx - 11.5), x1=px_x(cx + 11.5),
                       y0=px_y(cy), y1=px_y(cy), line=dict(color=col, width=1.6)))
    shapes.append(dict(type="line", xref="paper", yref="paper", x0=px_x(cx), x1=px_x(cx),
                       y0=px_y(cy - 10), y1=px_y(cy + 10), line=dict(color=col, width=1.6)))
    shapes.append(dict(type="circle", xref="paper", yref="paper", x0=px_x(cx - 4.5), x1=px_x(cx + 4.5),
                       y0=px_y(cy + 4.5), y1=px_y(cy - 4.5), fillcolor=col, line=dict(width=0)))


for i, (lab, col) in enumerate(zip(h_labels, h_colors)):
    cy = 69.3 + i * 29.3
    legend_key(547.7, cy, col)
    text(574, cy, "<i>h</i> = " + lab, xanchor="left")

for i, (lab, col) in enumerate(zip(L_labels, L_colors)):
    cy = 526.7 + i * 29.7
    legend_key(131.7, cy, col)
    text(158.3, cy, "<i>L</i> = " + lab, xanchor="left")

fig.update_layout(annotations=ann, shapes=shapes)
fig.write_html("out.html", config={"displayModeBar": False, "staticPlot": True},
               post_script="document.body.style.margin='0px';document.body.style.overflow='hidden';")
